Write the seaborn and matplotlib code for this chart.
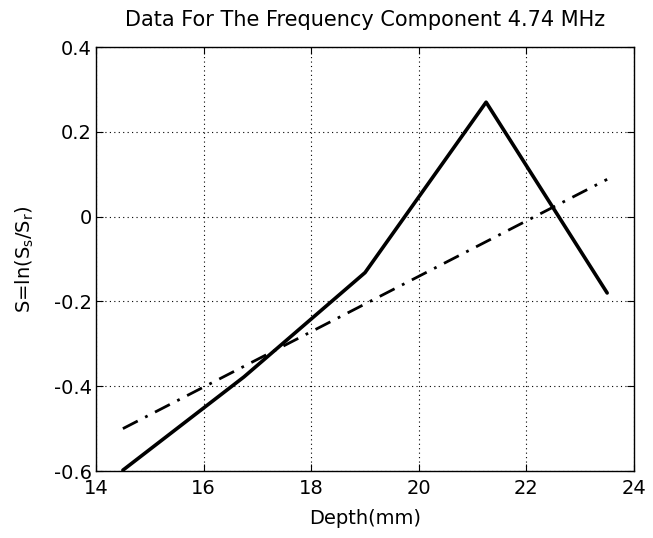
import matplotlib
matplotlib.use("Agg")
import matplotlib.pyplot as plt
import seaborn as sns
import pandas as pd
from matplotlib.ticker import FuncFormatter

depth = [14.5, 16.75, 19.0, 21.25, 23.5]
measured = [-0.598, -0.378, -0.132, 0.270, -0.180]
fitted = [-0.500, -0.353, -0.206, -0.059, 0.088]

sns.set_style("white")
plt.rcParams["font.family"] = ["DejaVu Sans"]
plt.rcParams["mathtext.default"] = "regular"
plt.rcParams["axes.unicode_minus"] = False
plt.rcParams["text.color"] = "black"
plt.rcParams["axes.labelcolor"] = "black"

fig = plt.figure(figsize=(6.53, 5.38), dpi=100)
ax = fig.add_axes([0.147, 0.1245, 0.824, 0.788])

df = pd.DataFrame({"Depth": depth, "measured": measured, "fitted": fitted})
sns.lineplot(data=df, x="Depth", y="measured", ax=ax, color="black", linewidth=2.6)
sns.lineplot(data=df, x="Depth", y="fitted", ax=ax, color="black", linewidth=2.0,
             linestyle=(0, (6, 3, 1, 3)))

ax.set_xlim(14, 24)
ax.set_ylim(-0.6, 0.4)
ax.set_xticks([14, 16, 18, 20, 22, 24])
ax.set_yticks([-0.6, -0.4, -0.2, 0, 0.2, 0.4])
ax.yaxis.set_major_formatter(FuncFormatter(lambda v, p: "0" if abs(v) < 1e-9 else f"{v:.1f}"))
ax.grid(True, color="black", linestyle=(0, (1, 3)), linewidth=0.8)
for s in ax.spines.values():
    s.set_color("black")
    s.set_linewidth(1.0)
ax.tick_params(direction="in", length=5, width=0.8, colors="black", labelsize=14,
               top=True, right=True, bottom=True, left=True, pad=3)
ax.tick_params(axis="x", pad=6)
ax.set_xlabel("Depth(mm)", fontsize=14, labelpad=8)
ax.set_ylabel(r"S=ln(S$_s$/S$_r$)", fontsize=14, labelpad=13)
ax.set_title("Data For The Frequency Component 4.74 MHz", fontsize=15, pad=15)

fig.savefig("out.png", dpi=100)
